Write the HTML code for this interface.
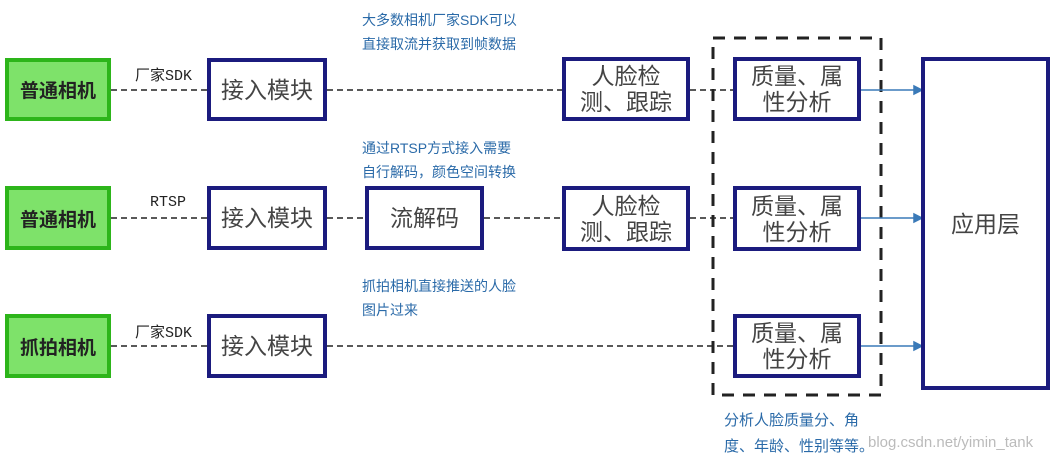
<!DOCTYPE html>
<html><head><meta charset="utf-8"><style>
body{margin:0;width:1060px;height:464px;background:#fff;position:relative;overflow:hidden;font-family:"Liberation Sans","Noto Sans CJK SC",sans-serif}
.b{position:absolute;box-sizing:border-box;border:4px solid #1b1b7e;background:#fff;display:flex;align-items:center;justify-content:center;text-align:center;font-size:23px;color:#444;line-height:26px}
.g{position:absolute;box-sizing:border-box;border:4px solid #2db51a;background:#7ee26a;display:flex;align-items:center;justify-content:center;font-size:19px;font-weight:bold;color:#222}
.t{position:absolute;font-size:14px;color:#2a6aa8;line-height:24px;white-space:nowrap}
.l{position:absolute;font-size:15px;color:#222;font-family:"Liberation Mono","Noto Sans CJK SC",monospace}
</style></head><body>
<svg width="1060" height="464" style="position:absolute;left:0;top:0">
<g stroke="#222" stroke-width="1.5" stroke-dasharray="6,4" fill="none">
<line x1="111" y1="90" x2="207" y2="90"/><line x1="327" y1="90" x2="562" y2="90"/><line x1="690" y1="90" x2="733" y2="90"/>
<line x1="111" y1="218" x2="207" y2="218"/><line x1="327" y1="218" x2="365" y2="218"/><line x1="484" y1="218" x2="562" y2="218"/><line x1="690" y1="218" x2="733" y2="218"/>
<line x1="111" y1="346" x2="207" y2="346"/><line x1="327" y1="346" x2="733" y2="346"/>
</g>
<rect x="713" y="38" width="168" height="357" fill="none" stroke="#222" stroke-width="3" stroke-dasharray="12,9"/>
<g stroke="#3a7ab8" stroke-width="1.5" fill="#3a7ab8">
<line x1="861" y1="90" x2="916" y2="90"/><polygon points="922,90 914,86 914,94"/>
<line x1="861" y1="218" x2="916" y2="218"/><polygon points="922,218 914,214 914,222"/>
<line x1="861" y1="346" x2="916" y2="346"/><polygon points="922,346 914,342 914,350"/>
</g>
</svg>
<div class="g" style="left:5px;top:58px;width:106px;height:63px">普通相机</div>
<div class="g" style="left:5px;top:186px;width:106px;height:64px">普通相机</div>
<div class="g" style="left:5px;top:314px;width:106px;height:64px">抓拍相机</div>
<div class="l" style="left:135px;top:64px">厂家SDK</div>
<div class="l" style="left:150px;top:194px">RTSP</div>
<div class="l" style="left:135px;top:321px">厂家SDK</div>
<div class="b" style="left:207px;top:58px;width:120px;height:63px">接入模块</div>
<div class="b" style="left:207px;top:186px;width:120px;height:64px">接入模块</div>
<div class="b" style="left:207px;top:314px;width:120px;height:64px">接入模块</div>
<div class="b" style="left:365px;top:186px;width:119px;height:64px">流解码</div>
<div class="b" style="left:562px;top:57px;width:128px;height:64px">人脸检<br>测、跟踪</div>
<div class="b" style="left:562px;top:186px;width:128px;height:65px">人脸检<br>测、跟踪</div>
<div class="b" style="left:733px;top:57px;width:128px;height:64px">质量、属<br>性分析</div>
<div class="b" style="left:733px;top:186px;width:128px;height:65px">质量、属<br>性分析</div>
<div class="b" style="left:733px;top:314px;width:128px;height:64px">质量、属<br>性分析</div>
<div class="b" style="left:921px;top:57px;width:129px;height:333px">应用层</div>
<div class="t" style="left:362px;top:8px">大多数相机厂家SDK可以<br>直接取流并获取到帧数据</div>
<div class="t" style="left:362px;top:136px">通过RTSP方式接入需要<br>自行解码，颜色空间转换</div>
<div class="t" style="left:362px;top:274px">抓拍相机直接推送的人脸<br>图片过来</div>
<div class="t" style="left:724px;top:408px;font-size:15px;line-height:26px">分析人脸质量分、角<br>度、年龄、性别等等。</div>
<div style="position:absolute;left:868px;top:434px;font-size:15px;color:#bbb">blog.csdn.net/yimin_tank</div>
</body></html>
